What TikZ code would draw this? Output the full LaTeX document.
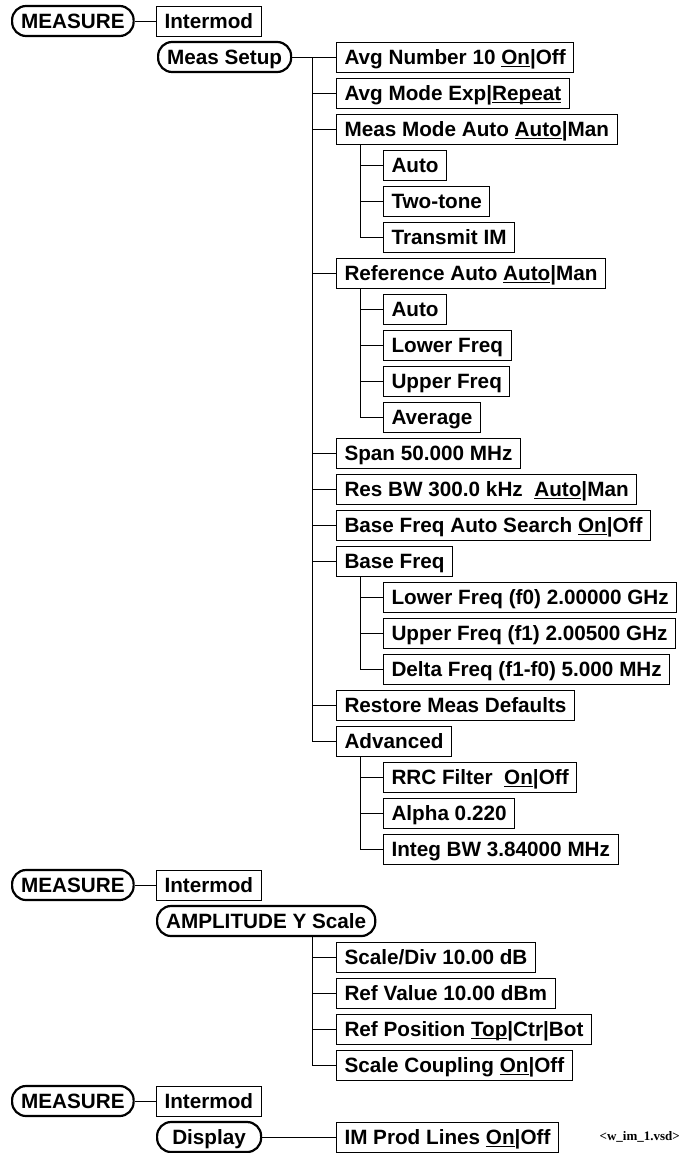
\documentclass[tikz,border=0pt]{standalone}
\usepackage{fontspec}
\setmainfont{Liberation Sans}
\newfontfamily\tagfont{Liberation Serif}
\usetikzlibrary{calc}
\newcommand\ulkey[1]{\setbox0\hbox{#1}\rlap{\rule[-2.6pt]{\wd0}{1.5pt}}\box0}
\tikzset{
  menubox/.style={draw,line width=1pt,anchor=west,minimum height=30pt,inner xsep=8pt,inner ysep=0pt,text height=14.8pt,text depth=0pt},
  hardkey/.style={menubox,line width=2.2pt,rounded corners=14pt,inner xsep=9pt},
  branch/.style={line width=1pt}
}
\begin{document}
\begin{tikzpicture}[x=1pt,y=-36pt,font=\fontsize{20.7}{24}\selectfont\bfseries]
\useasboundingbox (0,-0.5833) rectangle (680,31.444);
\node[hardkey] (key1) at (11,0) {MEASURE};
\node[menubox] (im1) at (156,0) {Intermod};
\draw[branch] (key1) -- (im1);
\node[hardkey] (setup) at (157,1) {Meas Setup};
\foreach \k/\nm/\txt in {1/avgnum/{Avg Number 10 \ulkey{On}|Off},2/avgmode/{Avg Mode Exp|\ulkey{Repeat}},
  3/mode/{Meas Mode Auto \ulkey{Auto}|Man},7/refer/{Reference Auto \ulkey{Auto}|Man},12/span/{Span 50.000 MHz},
  13/rbw/{Res BW 300.0 kHz~ \ulkey{Auto}|Man},14/search/{Base Freq Auto Search \ulkey{On}|Off},15/base/{Base Freq},
  19/restore/{Restore Meas Defaults},20/adv/{Advanced}}
  \node[menubox] (\nm) at (336,\k) {\txt};
\foreach \k/\nm/\txt in {4/mauto/Auto,5/mtwo/Two-tone,6/mtx/{Transmit IM},8/rauto/Auto,9/rlow/{Lower Freq},
  10/rup/{Upper Freq},11/ravg/Average,16/flow/{Lower Freq (f0) 2.00000 GHz},17/fup/{Upper Freq (f1) 2.00500 GHz},
  18/fdelta/{Delta Freq (f1-f0) 5.000 MHz},21/rrc/{RRC Filter~ \ulkey{On}|Off},22/alpha/{Alpha 0.220},
  23/integ/{Integ BW 3.84000 MHz}}
  \node[menubox] (\nm) at (383,\k) {\txt};
\draw[branch] (setup) -- (avgnum);
\coordinate (trunk1) at (312,1);
\draw[branch] (trunk1) |- (adv);
\foreach \nm in {avgmode,mode,refer,span,rbw,search,base,restore}
  \draw[branch] (trunk1 |- \nm.west) -- (\nm.west);
\foreach \up/\last/\kids in {mode/mtx/{mauto,mtwo},refer/ravg/{rauto,rlow,rup},base/fdelta/{flow,fup},adv/integ/{rrc,alpha}}{
  \coordinate (sub) at ($(\up.south west)+(24,0)$);
  \draw[branch] (sub) |- (\last);
  \foreach \c in \kids \draw[branch] (sub |- \c.west) -- (\c.west);
}
\node[hardkey] (key2) at (11,24) {MEASURE};
\node[menubox] (im2) at (156,24) {Intermod};
\draw[branch] (key2) -- (im2);
\node[hardkey] (amp) at (156,25) {AMPLITUDE Y Scale};
\foreach \k/\nm/\txt in {26/sdiv/{Scale/Div 10.00 dB},27/refval/{Ref Value 10.00 dBm},
  28/refpos/{Ref Position \ulkey{Top}|Ctr|Bot},29/coup/{Scale Coupling \ulkey{On}|Off}}
  \node[menubox] (\nm) at (336,\k) {\txt};
\coordinate (trunk2) at ($(amp.south -| sdiv.west)+(-24,0)$);
\draw[branch] (trunk2) |- (coup);
\foreach \nm in {sdiv,refval,refpos}
  \draw[branch] (trunk2 |- \nm.west) -- (\nm.west);
\node[hardkey] (key3) at (11,30) {MEASURE};
\node[menubox] (im3) at (156,30) {Intermod};
\draw[branch] (key3) -- (im3);
\node[hardkey,minimum width=104pt] (disp) at (156,31) {Display};
\node[menubox] (prod) at (336,31) {IM Prod Lines \ulkey{On}|Off};
\draw[branch] (disp) -- (prod);
\node[anchor=east,inner sep=0pt,font=\fontsize{13}{15}\selectfont\tagfont\bfseries] (tag) at (680,31) {<w\_im\_1.vsd>};
\end{tikzpicture}
\end{document}
